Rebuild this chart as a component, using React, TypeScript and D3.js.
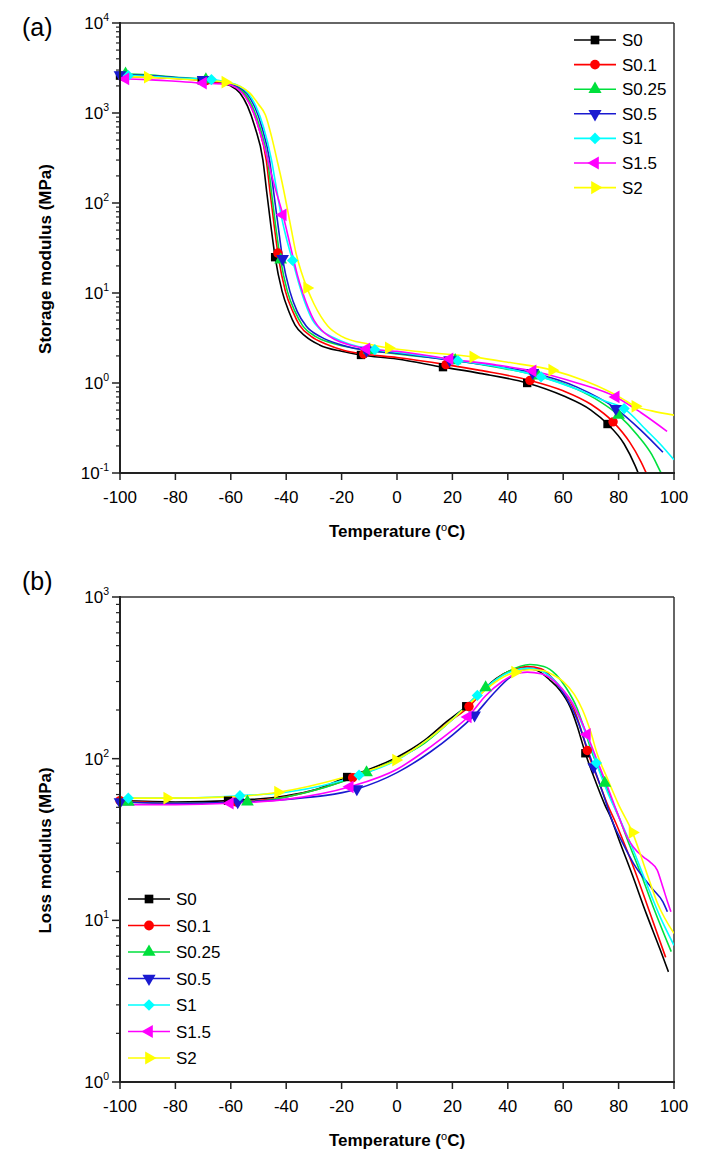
import React from "react";
import * as d3 from "d3";

const seriesNames = ["S0", "S0.1", "S0.25", "S0.5", "S1", "S1.5", "S2"];
const seriesColors = ["#000000", "#ff0000", "#00e03c", "#1a1ad0", "#00ffff", "#ff00ff", "#ffff00"];
const seriesSymbols = ["square", "circle", "triangleUp", "triangleDown", "diamond", "triangleLeft", "triangleRight"];

const xTicks = [-100, -80, -60, -40, -20, 0, 20, 40, 60, 80, 100];
const storageExponents = [-1, 0, 1, 2, 3, 4];
const lossExponents = [0, 1, 2, 3];

// Storage modulus (MPa) vs temperature (°C)
const storageS0 = [[-100,2600],[-90,2550],[-80,2450],[-70,2300],[-64,2150],[-60,2000],[-56.7,1670],[-54,1200],[-51.3,700],[-48.4,300],[-47,130],[-45.5,55],[-44,25],[-41.5,10.5],[-39,6.2],[-36.8,4.4],[-33,3.3],[-28,2.65],[-20,2.25],[-13,2.05],[0,1.85],[16.6,1.5],[30,1.28],[47,1.0],[60,0.72],[70,0.5],[76,0.35],[82,0.21],[86,0.12],[88,0.085]];
const storageS01 = [[-100,2550],[-90,2500],[-80,2420],[-69,2280],[-63,2150],[-59,2000],[-55.5,1670],[-52.8,1200],[-50,700],[-47.2,300],[-45.8,130],[-44.3,55],[-42.8,25],[-40.3,10.5],[-37.6,6.2],[-35.2,4.4],[-31,3.3],[-25.5,2.7],[-19,2.3],[-12,2.1],[0,1.92],[17.7,1.6],[30,1.38],[48,1.07],[60,0.82],[70,0.58],[78,0.37],[84,0.22],[88,0.135],[91,0.085]];
const storageS025 = [[-100,2750],[-90,2650],[-80,2500],[-69,2350],[-63,2200],[-58.5,2000],[-55,1670],[-52.3,1200],[-49.5,700],[-46.7,300],[-45.3,130],[-43.8,55],[-42.2,25],[-39.6,10.5],[-36.8,6.2],[-34.2,4.4],[-29.5,3.3],[-23,2.75],[-16,2.45],[-10,2.3],[0,2.1],[21,1.78],[36,1.5],[51,1.2],[65,0.85],[73,0.63],[80,0.44],[87,0.26],[92,0.16],[95,0.105],[96.5,0.085]];
const storageS05 = [[-100,2650],[-90,2600],[-80,2480],[-70,2350],[-63,2200],[-58,2000],[-54.3,1670],[-51.5,1200],[-48.8,700],[-46,300],[-44.5,130],[-42.9,55],[-41.3,24],[-38.7,10.5],[-36,6.2],[-32.8,4.3],[-27.5,3.25],[-20,2.65],[-11,2.3],[0,2.15],[19,1.8],[35,1.55],[49,1.3],[65,0.9],[79,0.52],[88,0.3],[96,0.17]];
const storageS1 = [[-97,2600],[-90,2550],[-80,2450],[-67,2350],[-61,2200],[-57,2000],[-53.8,1670],[-51,1200],[-48.2,700],[-45.3,300],[-43.6,150],[-41.7,70],[-39.7,38],[-37.7,23],[-35.5,13],[-33,7.5],[-30.5,5],[-28,4],[-23,3.2],[-17,2.7],[-8,2.35],[0,2.2],[22,1.77],[37,1.5],[52,1.17],[65,0.85],[75,0.63],[82,0.52],[90,0.3],[95,0.21],[100,0.14]];
const storageS15 = [[-100,2400],[-90,2350],[-80,2250],[-70,2150],[-62,2100],[-58,1900],[-55,1550],[-52,1050],[-49.5,620],[-47,330],[-45,190],[-43,115],[-41.2,74],[-39.5,45],[-37.8,27],[-36,16],[-34,10],[-32,6.8],[-30,5],[-27,3.8],[-22,3.0],[-16,2.6],[-11,2.4],[0,2.25],[19,1.85],[35,1.6],[49,1.36],[65,1.0],[79,0.7],[88,0.47],[97.5,0.29]];
const storageS2 = [[-100,2550],[-90,2500],[-80,2400],[-70,2300],[-62,2200],[-57,2000],[-53,1650],[-50,1250],[-47.5,950],[-45.3,550],[-43.3,300],[-41.5,170],[-39.7,90],[-38,48],[-36.5,28],[-34.5,17],[-32.5,11.4],[-30,7.6],[-27.5,5.5],[-25,4.3],[-20,3.3],[-10,2.7],[-3,2.45],[10,2.2],[27.5,1.95],[40,1.7],[56,1.39],[68,1.05],[76,0.82],[81,0.68],[86,0.55],[92,0.49],[100,0.44]];

// Loss modulus (MPa) vs temperature (°C)
const lossS0 = [[-100,55],[-80,54],[-60,55],[-40,59],[-30,64],[-18,77],[-10,86],[0,102],[10,130],[18,170],[25,211],[30,255],[36,315],[41,350],[45.5,363],[50,355],[55.2,306],[58.8,265],[62.5,209],[65,160],[68,108],[72,70],[75,52],[77.5,42],[80,32],[85,19],[90,11],[95,6.6],[98,4.8]];
const lossS01 = [[-100,55],[-80,53],[-57,54],[-40,58],[-17,75],[0,100],[10,126],[18,165],[26,210],[32,270],[38,330],[43,360],[47,372],[52,360],[56.5,310],[60,262],[63.8,205],[66,160],[69,108],[73,71],[76,52],[79,40],[82,30],[86,20],[91,11.5],[97,5.9]];
const lossS025 = [[-100,54],[-80,53],[-54,54],[-40,58],[-11,82],[0,100],[10,125],[20,175],[32,275],[40,345],[48,382],[53,372],[57.5,330],[61,275],[65,205],[67.5,155],[70.5,108],[74,78],[77,58],[80,44],[84,29],[88,19.5],[93,11.5],[99,6.4]];
const lossS05 = [[-100,54],[-80,53],[-57.5,54],[-40,56],[-14.5,65],[0,82],[12,110],[20,140],[28,186],[35,255],[42,330],[48,362],[53,345],[57,300],[61,240],[65,175],[68,125],[71,89],[74.5,60],[78,40],[81.5,30],[85.3,22.6],[92,15.8],[96,13],[97.6,11.3]];
const lossS1 = [[-100,57],[-80,57],[-56.7,59],[-40,62],[-13.7,79],[0,98],[12,135],[20,175],[29,246],[36,310],[42,350],[47,362],[52,350],[56,315],[60,265],[64,210],[67,160],[70,120],[72,94],[76,62],[80.5,42],[85,28],[90,17],[95,10.5],[100,7]];
const lossS15 = [[-100,52],[-80,52],[-60.3,53],[-40,56],[-17,67],[0,86],[12,118],[20,150],[25.6,181],[32,245],[38,300],[43,335],[47,343],[52,335],[57,300],[62,240],[65,195],[68,150],[72,100],[76,67],[80,44],[83,33],[85.3,28.4],[89,24.6],[91.3,23],[93.9,20.5],[96,16],[97.8,12.8],[98.9,11.3]];
const lossS2 = [[-100,57],[-83,57],[-60,58],[-43,62],[-20,76],[-0.4,98],[12,135],[20,175],[30,250],[37,310],[42.6,343],[48,355],[53,350],[57,325],[60,300],[64,250],[67,200],[70,145],[72.2,108],[76,75],[80,52],[85,35],[90,20],[94,12.8],[100,8.3]];

// Marker temperatures for each series
const storageMarkers = [
  [-100, -70.5, -44, -13, 16.6, 47, 76],
  [-99, -69, -43, -12, 17.7, 48, 78],
  [-98, -69, -42, -10, 21, 51, 80],
  [-100, -70, -41.3, -11, 19, 49, 79],
  [-97, -67, -37.7, -8, 22, 52, 82],
  [-98, -70, -41.2, -11, 19, 49, 79],
  [-90, -62, -32.5, -3, 27.5, 56, 86],
];
const lossMarkers = [
  [-61, -18, 25, 68],
  [-100, -58, -16, 26, 68.7],
  [-97, -54, -11, 32, 75],
  [-100, -57.5, -14.5, 28, 71],
  [-97, -56.7, -13.7, 29, 72],
  [-60.3, -17, 25.6, 68.6],
  [-83, -43, -0.4, 42.6, 85],
];

const storageSeries = [storageS0, storageS01, storageS025, storageS05, storageS1, storageS15, storageS2];
const lossSeries = [lossS0, lossS01, lossS025, lossS05, lossS1, lossS15, lossS2];

const FONT = "'Liberation Sans', Arial, Helvetica, sans-serif";

function valueAt(data: number[][], t: number): number {
  if (t <= data[0][0]) return data[0][1];
  for (let i = 1; i < data.length; i++) {
    if (t <= data[i][0]) {
      const [t0, v0] = data[i - 1];
      const [t1, v1] = data[i];
      const f = (t - t0) / (t1 - t0);
      return Math.pow(10, Math.log10(v0) + f * (Math.log10(v1) - Math.log10(v0)));
    }
  }
  return data[data.length - 1][1];
}

function symbolPath(kind: string, size: number): { d: string; rot: number } {
  switch (kind) {
    case "square": return { d: d3.symbol(d3.symbolSquare, size)()!, rot: 0 };
    case "circle": return { d: d3.symbol(d3.symbolCircle, size)()!, rot: 0 };
    case "triangleUp": return { d: d3.symbol(d3.symbolTriangle, size)()!, rot: 0 };
    case "triangleDown": return { d: d3.symbol(d3.symbolTriangle, size)()!, rot: 180 };
    case "diamond": return { d: d3.symbol(d3.symbolSquare, size * 0.9)()!, rot: 45 };
    case "triangleLeft": return { d: d3.symbol(d3.symbolTriangle, size)()!, rot: -90 };
    case "triangleRight": return { d: d3.symbol(d3.symbolTriangle, size)()!, rot: 90 };
  }
  return { d: "", rot: 0 };
}

function Marker({ x, y, i, size = 70 }: { x: number; y: number; i: number; size?: number }) {
  const s = symbolPath(seriesSymbols[i], size);
  return <path d={s.d} transform={`translate(${x},${y}) rotate(${s.rot})`} fill={seriesColors[i]} />;
}

type PanelProps = {
  id: string;
  label: string;
  labelY: number;
  top: number;
  bottom: number;
  domain: [number, number];
  exponents: number[];
  series: number[][][];
  markers: number[][];
  yTitle: string;
  legendX: number;
  legendY: number;
  legendStep: number;
};

function Panel(p: PanelProps) {
  const left = 120, right = 674;
  const x = d3.scaleLinear().domain([-100, 100]).range([left, right]);
  const y = d3.scaleLog().domain(p.domain).range([p.bottom, p.top]);
  const line = d3.line<number[]>().x((d) => x(d[0])).y((d) => y(d[1])).curve(d3.curveMonotoneX);
  const minor: number[] = [];
  for (let e = p.exponents[0]; e < p.exponents[p.exponents.length - 1]; e++) {
    for (let k = 2; k <= 9; k++) minor.push(k * Math.pow(10, e));
  }
  const clipId = "clip-" + p.id;
  const midY = (p.top + p.bottom) / 2;
  return (
    <g>
      <defs>
        <clipPath id={clipId}>
          <rect x={left} y={p.top} width={right - left} height={p.bottom - p.top} />
        </clipPath>
      </defs>
      <text x={22} y={p.labelY} fontSize={25} fontFamily={FONT}>{p.label}</text>
      {/* frame */}
      <line x1={left} x2={right} y1={p.top} y2={p.top} stroke="#333" strokeWidth={1.5} />
      <line x1={right} x2={right} y1={p.top} y2={p.bottom} stroke="#333" strokeWidth={1.5} />
      {/* curves */}
      <g clipPath={`url(#${clipId})`}>
        {p.series.map((s, i) => (
          <path key={i} d={line(s)!} fill="none" stroke={seriesColors[i]} strokeWidth={1.6} />
        ))}
      </g>
      {p.series.map((s, i) => (
        <g key={i}>
          {p.markers[i].map((t, j) => (
            <Marker key={j} x={x(t)} y={y(valueAt(s, t))} i={i} />
          ))}
        </g>
      ))}
      {/* axes */}
      <line x1={left} x2={left} y1={p.top - 1} y2={p.bottom + 1} stroke="#222" strokeWidth={2} />
      <line x1={left - 1} x2={right + 1} y1={p.bottom} y2={p.bottom} stroke="#222" strokeWidth={2} />
      {xTicks.map((t) => (
        <g key={t}>
          <line x1={x(t)} x2={x(t)} y1={p.bottom} y2={p.bottom + 7} stroke="#222" strokeWidth={1.5} />
          <text x={x(t)} y={p.bottom + 30} textAnchor="middle" fontSize={17} fontFamily={FONT}>{t}</text>
        </g>
      ))}
      {minor.map((v, i) => (
        <line key={i} x1={left - 4} x2={left} y1={y(v)} y2={y(v)} stroke="#222" strokeWidth={1.2} />
      ))}
      {p.exponents.map((e) => (
        <g key={e}>
          <line x1={left - 8} x2={left} y1={y(Math.pow(10, e))} y2={y(Math.pow(10, e))} stroke="#222" strokeWidth={1.5} />
          <text x={left - 11} y={y(Math.pow(10, e)) + 6} textAnchor="end" fontSize={17} fontFamily={FONT}>
            10<tspan dy={-8} fontSize={10.5}>{e}</tspan>
          </text>
        </g>
      ))}
      <text x={(left + right) / 2} y={p.bottom + 64} textAnchor="middle" fontSize={17} fontWeight="bold" fontFamily={FONT}>
        Temperature (<tspan dy={-6} fontSize={11} fontWeight="normal">o</tspan><tspan dy={6}>C)</tspan>
      </text>
      <text transform={`translate(51,${midY + 11}) rotate(-90)`} textAnchor="middle" fontSize={17} fontWeight="bold" fontFamily={FONT}>
        {p.yTitle}
      </text>
      {/* legend */}
      {seriesNames.map((n, i) => {
        const ly = p.legendY + i * p.legendStep;
        return (
          <g key={n}>
            <line x1={p.legendX} x2={p.legendX + 42} y1={ly} y2={ly} stroke={seriesColors[i]} strokeWidth={1.6} />
            <Marker x={p.legendX + 21} y={ly} i={i} size={75} />
            <text x={p.legendX + 48} y={ly + 6} fontSize={17} fontFamily={FONT}>{n}</text>
          </g>
        );
      })}
    </g>
  );
}

export default function App() {
  return (
    <svg width={703} height={1172} style={{ position: "absolute", left: 0, top: 0, background: "#fff" }}>
      <rect x={0} y={0} width={703} height={1172} fill="#fff" />
      <Panel id="a" label="(a)" labelY={36} top={23} bottom={473} domain={[0.1, 10000]} exponents={storageExponents}
        series={storageSeries} markers={storageMarkers} yTitle="Storage modulus (MPa)"
        legendX={574} legendY={40} legendStep={24.6} />
      <Panel id="b" label="(b)" labelY={590} top={597} bottom={1082} domain={[1, 1000]} exponents={lossExponents}
        series={lossSeries} markers={lossMarkers} yTitle="Loss modulus (MPa)"
        legendX={128} legendY={899} legendStep={26.5} />
    </svg>
  );
}
